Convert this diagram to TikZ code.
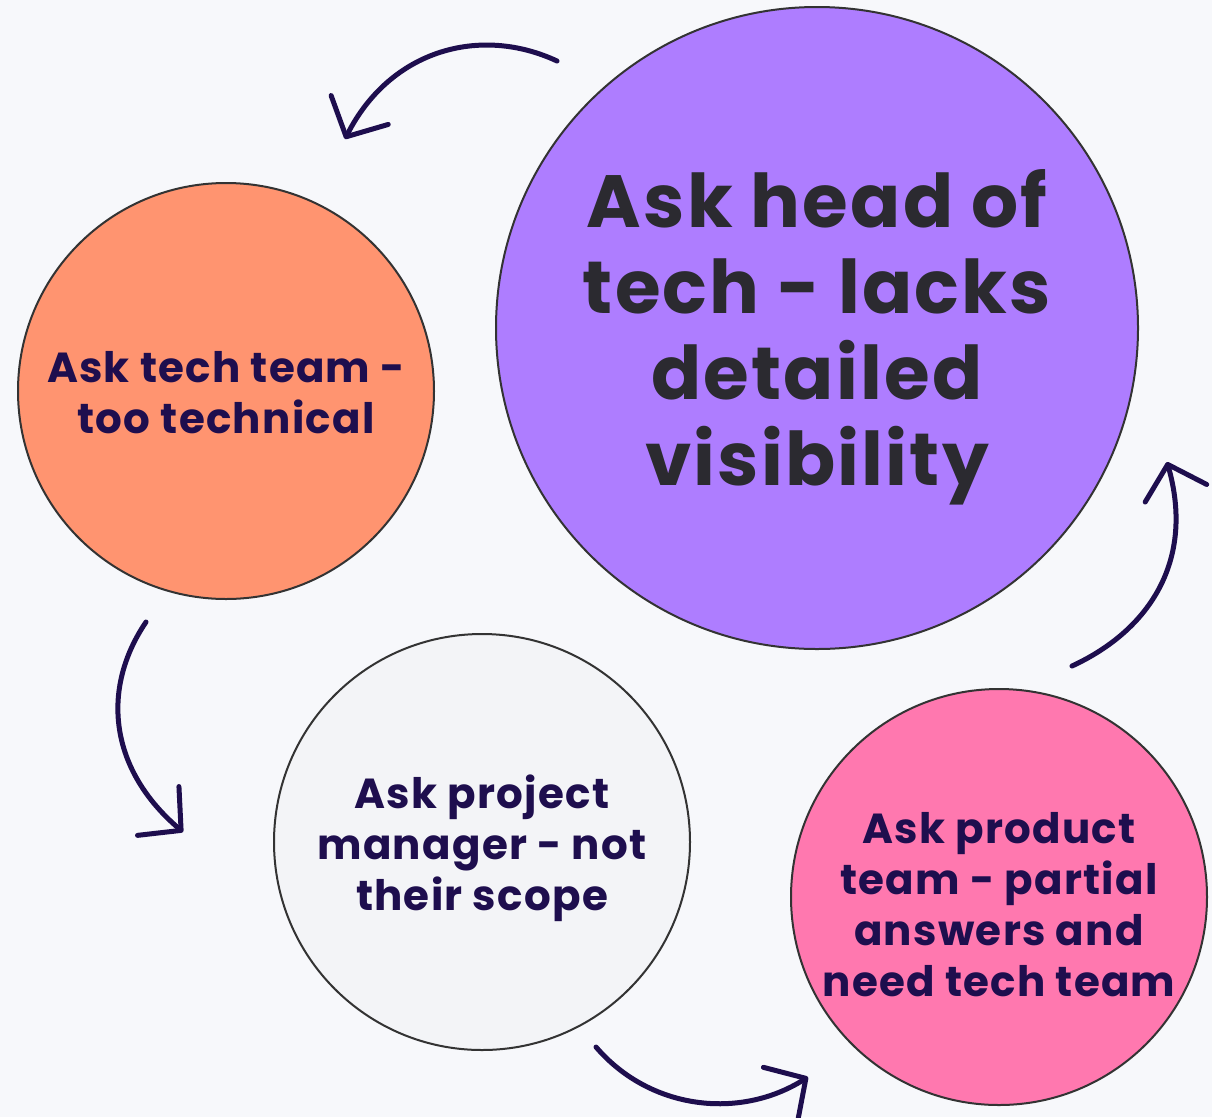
\documentclass[tikz,border=0pt]{standalone}
\usepackage{fontspec}
\setmainfont{Poppins}
\newfontfamily\widefont[LetterSpace=3]{Poppins}
\usetikzlibrary{arrows.meta}
\definecolor{bg}{HTML}{F7F8FB}
\definecolor{cpurple}{HTML}{AE7DFF}
\definecolor{corange}{HTML}{FF9470}
\definecolor{cgray}{HTML}{F3F4F7}
\definecolor{cpink}{HTML}{FF78AF}
\definecolor{navy}{HTML}{1E0E4E}
\definecolor{edge}{HTML}{333333}
\definecolor{darktext}{HTML}{2B2A30}
\begin{document}
\begin{tikzpicture}[x=1pt,y=-1pt,
  bubble/.style={circle,draw=edge,line width=2pt,inner sep=0pt},
  label/.style={align=center,inner sep=0pt,text=navy,
     font=\widefont\fontsize{42}{51}\selectfont\bfseries},
  flow/.style={draw=navy,line width=5pt,line cap=round,
     -{Straight Barb[length=30pt,width=64pt,line cap=round,line join=round]}}]
\fill[bg] (0,0) rectangle (1212,1117);
\useasboundingbox (0,0) rectangle (1212,1117);
\node[bubble,fill=cpurple,minimum size=642pt] (head) at (817,328) {};
\node[bubble,fill=corange,minimum size=416pt] (tech) at (226,391) {};
\node[bubble,fill=cgray,minimum size=416pt] (pm) at (482,842) {};
\node[bubble,fill=cpink,minimum size=416pt] (prod) at (999,897) {};
\node[label,text=darktext,font=\widefont\fontsize{74}{86}\selectfont\bfseries]
  (headtxt) at (817,337) {Ask head of\\tech - lacks\\detailed\\visibility};
\node[label] (techtxt) at (226,393) {Ask tech team -\\too technical};
\node[label] (pmtxt) at (482,848) {Ask project\\manager - not\\their scope};
\node[label] (prodtxt) at (999,905) {Ask product\\team - partial\\answers and\\need tech team};
\coordinate (a1s) at (557,61);   \coordinate (a1e) at (345,139);
\coordinate (a2s) at (146,622);  \coordinate (a2e) at (183,832);
\coordinate (a3s) at (596,1047); \coordinate (a3e) at (808,1077);
\coordinate (a4s) at (1072,666); \coordinate (a4e) at (1167,462);
\draw[flow] (a1s) .. controls (480,25) and (390,50) .. (a1e);
\draw[flow] (a2s) .. controls (100,690) and (110,770) .. (a2e);
\draw[flow] (a3s) .. controls (650,1110) and (740,1120) .. (a3e);
\draw[flow] (a4s) .. controls (1150,630) and (1195,560) .. (a4e);
\end{tikzpicture}
\end{document}
